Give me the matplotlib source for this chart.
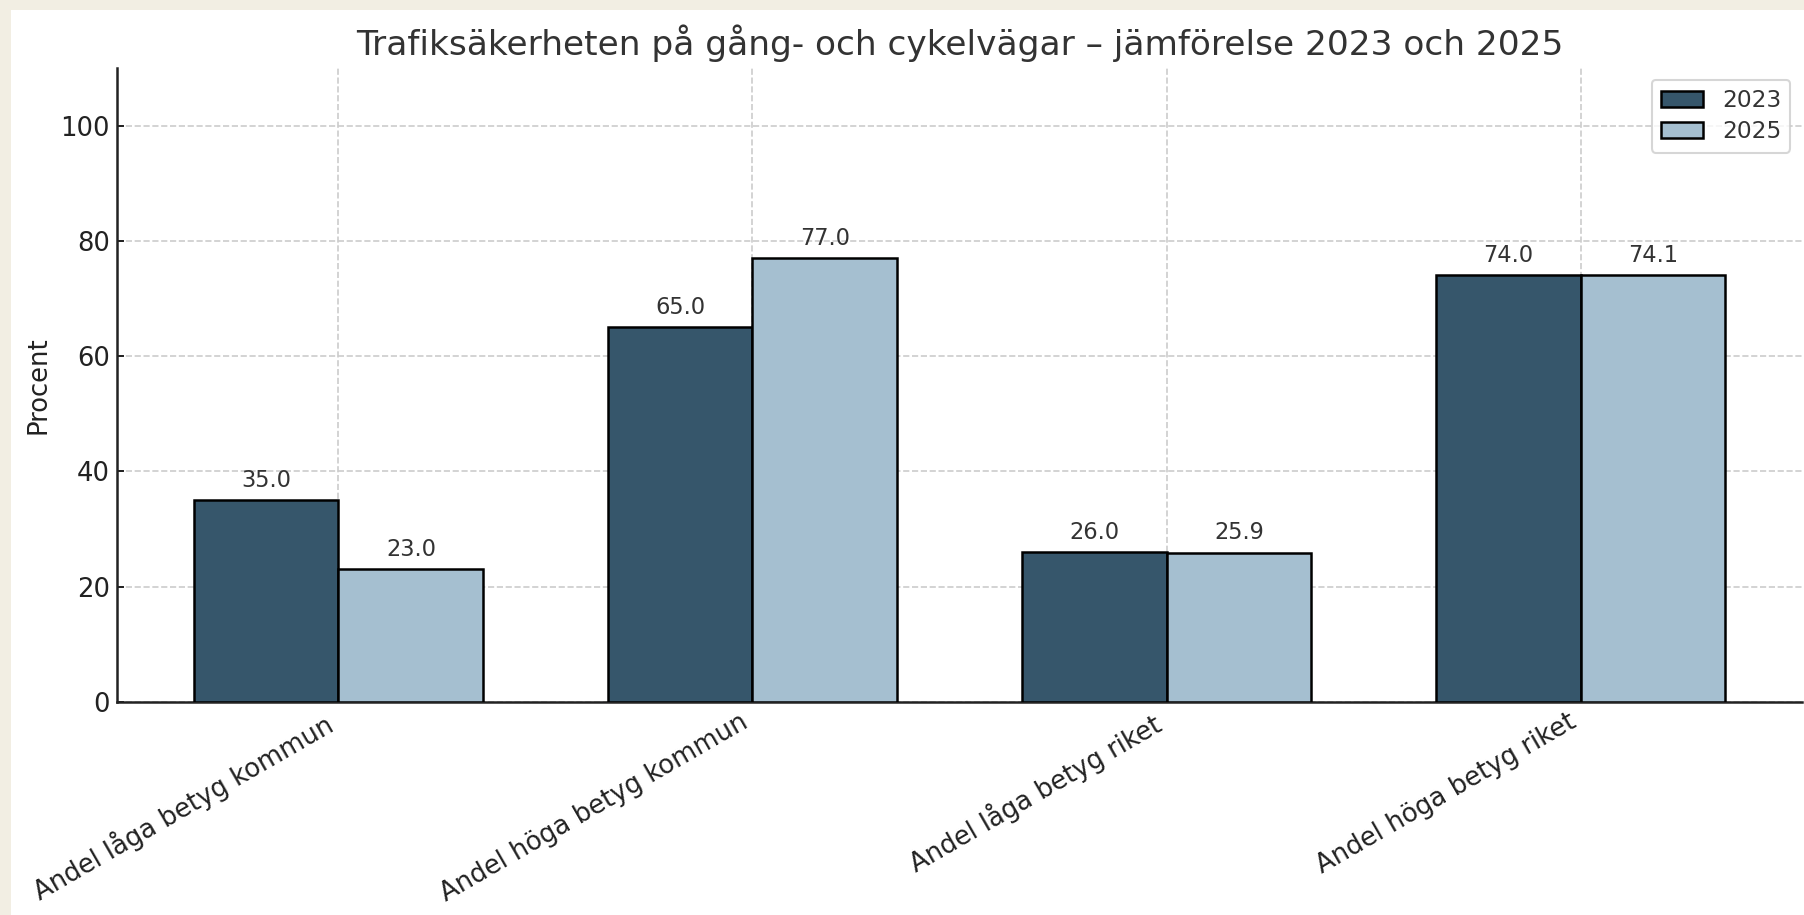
import numpy as np
import matplotlib.pyplot as plt
from matplotlib.patches import Rectangle

# Data
categories = ["Andel låga betyg kommun", "Andel höga betyg kommun",
              "Andel låga betyg riket", "Andel höga betyg riket"]
values_2023 = [35.0, 65.0, 26.0, 74.0]
values_2025 = [23.0, 77.0, 25.9, 74.1]
series_labels = ["2023", "2025"]

col_2023 = "#36566B"
col_2025 = "#A5BFD0"
text_col = "#333333"

fig = plt.figure(figsize=(1804 / 150, 915 / 150), dpi=150, facecolor="#F2EEE3")
# white canvas inset (screenshot-style frame on top/left)
fig.patches.append(Rectangle((11 / 1804, 0), 1 - 11 / 1804, 1 - 10 / 915,
                             transform=fig.transFigure, facecolor="white",
                             edgecolor="none", zorder=-10))

ax = fig.add_axes([117 / 1804, 1 - 702 / 915, (1802 - 117) / 1804, (702 - 68) / 915])
ax.set_facecolor("white")

x = np.arange(len(categories))
w = 0.35
b1 = ax.bar(x - w / 2, values_2023, w, color=col_2023, edgecolor="black",
            linewidth=1.2, label=series_labels[0], zorder=3)
b2 = ax.bar(x + w / 2, values_2025, w, color=col_2025, edgecolor="black",
            linewidth=1.2, label=series_labels[1], zorder=3)

for bars in (b1, b2):
    for rect in bars:
        h = rect.get_height()
        ax.annotate(f"{h:.1f}", xy=(rect.get_x() + rect.get_width() / 2, h),
                    xytext=(0, 4), textcoords="offset points",
                    ha="center", va="bottom", fontsize=10.8, color=text_col, zorder=4)

ax.set_ylim(0, 110)
ax.set_xticks(x)
ax.set_xticklabels(categories, rotation=30, ha="right", fontsize=12.4, color="#222222")
ax.tick_params(axis="both", direction="in", length=3.5)
ax.tick_params(axis="y", labelsize=12.4, labelcolor="#222222")
ax.set_ylabel("Procent", fontsize=12.4, color="#222222")
ax.set_title("Trafiksäkerheten på gång- och cykelvägar – jämförelse 2023 och 2025",
             fontsize=16.5, color=text_col, pad=6)

ax.grid(True, linestyle="--", color="#CCCCCC", linewidth=0.8, zorder=0)
ax.set_axisbelow(True)
for s in ("top", "right"):
    ax.spines[s].set_visible(False)
for s in ("left", "bottom"):
    ax.spines[s].set_color("#222222")
    ax.spines[s].set_linewidth(1.2)

leg = ax.legend(loc="upper right", fontsize=11.2, frameon=True, labelspacing=0.35,
                handlelength=1.8)
for t in leg.get_texts():
    t.set_color(text_col)

fig.savefig("out.png", dpi=150, facecolor=fig.get_facecolor())
